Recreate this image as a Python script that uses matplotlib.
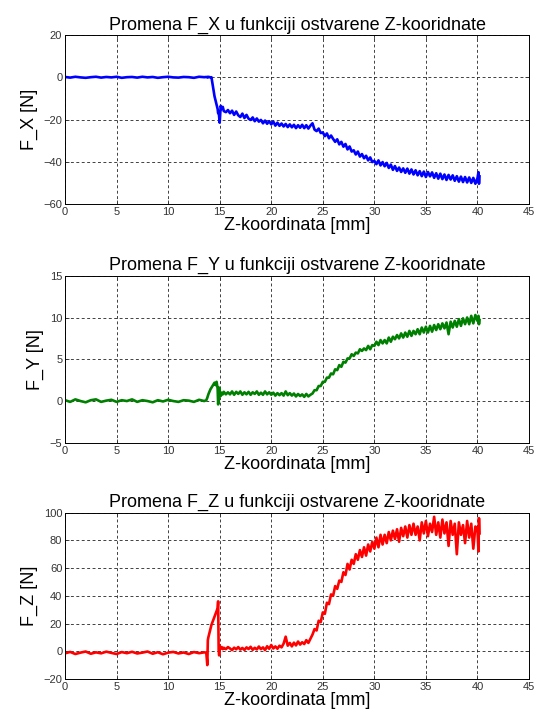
import matplotlib
matplotlib.use("Agg")
import matplotlib.pyplot as plt

plt.rcParams['font.family'] = ['Liberation Sans', 'DejaVu Sans']

# Z coordinate [mm], shared by all three measurements
z_mm = [
    0.0, 0.5, 1.0, 1.5, 2.0, 2.5, 3.0, 3.5, 4.0, 4.5,
    5.0, 5.5, 6.0, 6.5, 7.0, 7.5, 8.0, 8.5, 9.0, 9.5,
    10.0, 10.5, 11.0, 11.5, 12.0, 12.5, 13.0, 13.5,
    13.7, 13.8, 13.85, 13.9, 14.0, 14.1, 14.2, 14.3, 14.4, 14.5,
    14.6, 14.7, 14.8, 14.85, 14.9, 14.95, 15.0, 15.1, 15.2, 15.3, 15.4,
    15.6, 15.8,
    16.0, 16.2, 16.4, 16.6, 16.8, 17.0, 17.2, 17.4, 17.6, 17.8,
    18.0, 18.2, 18.4, 18.6, 18.8, 19.0, 19.2, 19.4, 19.6, 19.8,
    20.0, 20.2, 20.4, 20.6, 20.8, 21.0, 21.2, 21.4, 21.6, 21.8,
    22.0, 22.2, 22.4, 22.6, 22.8, 23.0, 23.2, 23.4, 23.6, 23.8,
    24.0, 24.2, 24.4, 24.6, 24.8, 25.0, 25.2, 25.4, 25.6, 25.8,
    26.0, 26.2, 26.4, 26.6, 26.8, 27.0, 27.2, 27.4, 27.6, 27.8,
    28.0, 28.2, 28.4, 28.6, 28.8, 29.0, 29.2, 29.4, 29.6, 29.8,
    30.0, 30.2, 30.4, 30.6, 30.8, 31.0, 31.2, 31.4, 31.6, 31.8,
    32.0, 32.2, 32.4, 32.6, 32.8, 33.0, 33.2, 33.4, 33.6, 33.8,
    34.0, 34.2, 34.4, 34.6, 34.8, 35.0, 35.2, 35.4, 35.6, 35.8,
    36.0, 36.2, 36.4, 36.6, 36.8, 37.0, 37.2, 37.4, 37.6, 37.8,
    38.0, 38.2, 38.4, 38.6, 38.8, 39.0, 39.2, 39.4, 39.6, 39.8,
    40.0, 40.1, 40.15, 40.2,
]

# force along X [N]
f_x = [
    0.2, -0.1, 0.3, 0.0, -0.2, 0.1, 0.3, -0.1, 0.2, 0.0,
    0.3, -0.2, 0.1, 0.2, -0.1, 0.3, 0.0, 0.2, -0.2, 0.1,
    0.3, 0.0, -0.1, 0.2, 0.1, -0.2, 0.3, 0.1,
    0.2, 0.0, 0.3, 0.1, 0.2, 0.0, 0.1, -3, -6, -9,
    -11, -13, -15, -17, -16, -19, -21.5, -13.5, -15, -14, -16,
    -16.5, -15.5,
    -17, -15.8, -17.8, -16.2, -18, -18.8, -17.2, -19.3, -17.8, -19.6,
    -20.2, -19, -20.8, -19.5, -21, -20.2, -21.8, -20.5, -22, -20.8,
    -22.3, -21, -22.9, -21.5, -23, -21.9, -23.3, -22.1, -23.6, -22.3,
    -23.7, -22.5, -24.1, -22.7, -23.9, -22.5, -24.1, -22.7, -24.3, -22.9,
    -21.8, -24.8, -25.5, -24.3, -26.4, -26.1, -27.9, -26.6, -28.9, -27.6,
    -29.2, -30.6, -29.4, -31.8, -30.6, -32.9, -31.6, -34.2, -32.8, -35.2,
    -34.6, -36.6, -35.2, -37.6, -36.4, -38.4, -37.2, -39.4, -38, -40.2,
    -39.6, -41.2, -39.4, -41.8, -40.2, -42.2, -40.6, -43, -41.4, -43.9,
    -42.1, -44.4, -42.8, -44.9, -43.2, -45.3, -43.3, -45.7, -43.7, -46.1,
    -44.1, -46.5, -44.5, -46.9, -44.7, -47.3, -44.9, -47, -45.1, -47.7,
    -45.5, -48.1, -45.7, -48.3, -46.1, -48.7, -46.3, -48.5, -46.5, -49.1,
    -46.9, -49.5, -47.1, -49.7, -47.3, -49.9, -47.5, -50.1, -47.7, -50.5,
    -47.9, -45, -50.5, -47,
]

# force along Y [N]
f_y = [
    0.1, -0.1, 0.2, 0.0, -0.15, 0.1, 0.2, -0.1, 0.05, 0.15,
    -0.1, 0.1, 0.0, 0.2, -0.1, 0.1, 0.0, -0.15, 0.1, -0.05,
    0.15, 0.0, -0.1, 0.1, 0.05, -0.1, 0.15, 0.0,
    0.1, 0.4, 0.6, 0.8, 1.1, 1.4, 1.6, 1.8, 2.0, 2.2,
    1.9, 2.3, 1.5, -0.4, 0.3, 1.6, 1.2, 0.6, 1.0, 0.8, 1.1,
    0.8, 1.05,
    0.8, 1.15, 0.75, 1.1, 0.85, 1.15, 0.75, 1.05, 0.8, 1.1,
    0.75, 1.05, 0.85, 1.15, 0.75, 1.0, 0.75, 1.15, 0.8, 1.05,
    0.75, 1.0, 0.65, 0.95, 0.7, 0.95, 0.65, 1.15, 0.7, 0.95,
    0.65, 0.9, 0.55, 0.85, 0.6, 0.8, 0.5, 0.85, 0.55, 0.75,
    0.9, 1.3, 1.3, 1.8, 1.8, 2.3, 2.3, 2.8, 2.8, 3.3,
    3.2, 3.8, 3.7, 4.3, 4.1, 4.7, 4.6, 5.1, 5.1, 5.6,
    5.4, 5.8, 5.7, 6.2, 6.0, 6.3, 6.1, 6.6, 6.2, 6.7,
    6.6, 7.1, 6.7, 7.3, 6.9, 7.3, 6.9, 7.6, 7.1, 7.7,
    7.4, 7.9, 7.5, 8.1, 7.6, 8.2, 7.7, 8.4, 7.8, 8.4,
    8.0, 8.6, 8.0, 8.8, 8.2, 8.9, 8.2, 9.0, 8.3, 9.1,
    8.5, 9.2, 8.6, 9.3, 8.7, 9.4, 8.0, 9.5, 8.8, 9.6,
    8.9, 9.8, 9.0, 9.9, 9.2, 10.0, 9.2, 10.2, 9.3, 10.3,
    9.6, 10.2, 9.2, 9.7,
]

# force along Z [N]
f_z = [
    -1.5, -0.5, -2.0, -1.0, -0.2, -1.8, -0.8, -1.5, -0.3, -1.2,
    -2.0, -0.6, -1.4, -0.4, -1.6, -1.0, -0.2, -1.8, -0.7, -2.2,
    -1.0, -0.5, -1.6, -0.9, -2.0, -0.6, -1.4, -0.8,
    -1.0, -10, 8, 10, 13, 16, 19, 21, 23, 25,
    27, 29, 31, 36, 1, -3, 4, 2, 3, 1.5, 2.5,
    1.5, 3.0,
    2.0, 0.8, 2.6, 1.4, 3.0, 1.2, 2.4, 0.9, 2.8, 1.6,
    3.2, 1.0, 2.5, 1.3, 3.4, 1.5, 2.8, 0.8, 3.6, 1.8,
    4.5, 2.0, 3.5, 1.8, 4.0, 2.8, 5.5, 10.5, 4.0, 6.0,
    3.5, 6.2, 4.2, 7.0, 4.8, 6.5, 5.2, 8.0, 6.0, 9.0,
    12, 16, 15, 22, 21, 28, 27, 35, 34, 41,
    40, 47, 45, 51, 50, 57, 55, 63, 59, 66,
    63, 70, 66, 73, 68, 75, 69, 77, 72, 79,
    74, 82, 75, 84, 77, 84, 78, 86, 80, 87,
    81, 88, 79, 89, 83, 90, 82, 91, 84, 92,
    84, 90, 80, 93, 85, 94, 83, 92, 86, 97,
    84, 93, 82, 95, 85, 93, 76, 94, 84, 92,
    70, 93, 84, 91, 78, 94, 82, 92, 74, 90,
    88, 72, 96, 85,
]

titles = [
    "Promena F_X u funkciji ostvarene Z-kooridnate",
    "Promena F_Y u funkciji ostvarene Z-kooridnate",
    "Promena F_Z u funkciji ostvarene Z-kooridnate",
]
ylabels = ["F_X [N]", "F_Y [N]", "F_Z [N]"]
xlabel = "Z-koordinata [mm]"
x_ticks = [0, 5, 10, 15, 20, 25, 30, 35, 40, 45]
y_ticks = [
    [-60, -40, -20, 0, 20],
    [-5, 0, 5, 10, 15],
    [-20, 0, 20, 40, 60, 80, 100],
]
series = [f_x, f_y, f_z]
colors = ["#0000ff", "#008000", "#ff0000"]

fig = plt.figure(figsize=(5.42, 7.2), dpi=100)
positions = [
    [0.120, 0.717, 0.856, 0.234],
    [0.120, 0.385, 0.856, 0.232],
    [0.120, 0.057, 0.856, 0.231],
]

for i in range(3):
    ax = fig.add_axes(positions[i])
    ax.plot(z_mm, series[i], color=colors[i], lw=1.9)
    ax.set_xlim(0, 45)
    ax.set_ylim(y_ticks[i][0], y_ticks[i][-1])
    ax.set_xticks(x_ticks)
    ax.set_yticks(y_ticks[i])
    ax.grid(True, color="#222222", linestyle=(0, (3.5, 3)), linewidth=0.6)
    ax.tick_params(direction="in", top=True, right=True, labelsize=8,
                   length=3, width=0.6, pad=2, colors="#333333")
    for sp in ax.spines.values():
        sp.set_linewidth(0.7)
    ax.set_title(titles[i], fontsize=13, pad=4)
    ax.set_ylabel(ylabels[i], fontsize=13, labelpad=4)
    ax.set_xlabel(xlabel, fontsize=13, labelpad=0)

fig.savefig("out.png", dpi=100)
